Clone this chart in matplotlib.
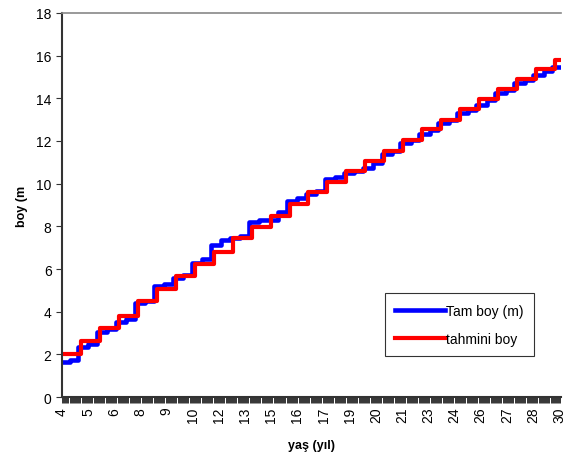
import numpy as np
import matplotlib
matplotlib.use('Agg')
import matplotlib.pyplot as plt

# yearly ages (categories) and the two length series
ages = list(range(4, 31))

# tahmini boy: one value per integer age
tahmini_boy = [2.00, 2.64, 3.23, 3.81, 4.48, 5.06, 5.66, 6.23, 6.81, 7.44,
               7.95, 8.50, 9.05, 9.60, 10.10, 10.60, 11.05, 11.55, 12.05, 12.55,
               13.00, 13.50, 13.95, 14.45, 14.90, 15.35, 15.80]

# Tam boy (m): early and late level inside each year
tam_boy_lo = [1.65, 2.35, 3.05, 3.50, 4.40, 5.20, 5.60, 6.30, 7.15, 7.45,
              8.20, 8.30, 9.20, 9.50, 10.20, 10.50, 10.75, 11.40, 11.90, 12.35,
              12.85, 13.30, 13.70, 14.25, 14.70, 15.10, 15.45]
tam_boy_hi = [1.72, 2.50, 3.20, 3.65, 4.50, 5.30, 5.70, 6.45, 7.35, 7.55,
              8.30, 8.67, 9.35, 9.65, 10.30, 10.60, 10.95, 11.55, 12.05, 12.50,
              13.00, 13.45, 13.90, 14.40, 14.85, 15.30, 15.60]

tick_labels = ['4', '5', '6', '8', '9', '10', '12', '13', '15', '16',
               '17', '19', '20', '21', '23', '24', '26', '27', '28', '30']

# blue series: jump a little before the year, small rise mid-year
blue_x, blue_y = [], []
for a, lo, hi in zip(ages, tam_boy_lo, tam_boy_hi):
    blue_x += [a - 0.15, a + 0.4]
    blue_y += [lo, hi]
blue_x += [31]
blue_y += [tam_boy_hi[-1]]

red_x = ages + [31]
red_y = tahmini_boy + [tahmini_boy[-1]]

fig = plt.figure(figsize=(5.63, 4.64), dpi=100)
ax = fig.add_axes([0.110, 0.142, 0.886, 0.828])
plt.rcParams['font.family'] = ['Liberation Sans', 'DejaVu Sans']

ax.step(blue_x, blue_y, where='post', color='#0000FF', lw=3.3, label='Tam boy (m)')
ax.step(red_x, red_y, where='post', color='#FF0000', lw=3.0, label='tahmini boy')

ax.set_xlim(4, 30.3)
ax.set_ylim(0, 18)
ax.set_yticks(np.arange(0, 19, 2))

label_step = 1.38
ax.set_xticks([4 + i * label_step for i in range(len(tick_labels))])
ax.set_xticklabels(tick_labels, rotation=90, fontsize=10, family='Liberation Sans')
ax.set_xticks(np.arange(4, 30.3, label_step / 24), minor=True)
ax.tick_params(axis='x', which='both', direction='out', length=4, width=0.7,
               color='#333333', pad=3)
ax.tick_params(axis='y', direction='out', length=4, width=0.8, color='#333333',
               labelsize=10)
for t in ax.get_yticklabels():
    t.set_family('Liberation Sans')

for s in ['left', 'bottom']:
    ax.spines[s].set_color('#333333')
    ax.spines[s].set_linewidth(1.5)
ax.spines['top'].set_color('#888888')
ax.spines['top'].set_linewidth(1.2)
ax.spines['right'].set_visible(False)

ax.set_xlabel('yaş (yıl)', fontsize=9, fontweight='bold', family='Liberation Sans',
              labelpad=12)
ax.set_ylabel('boy (m', fontsize=9, fontweight='bold', family='Liberation Sans',
              labelpad=6)

leg = ax.legend(loc='lower left', bbox_to_anchor=(0.647, 0.107), fontsize=10,
                frameon=True, fancybox=False, handlelength=3.6, handletextpad=0.05,
                borderpad=0.75, labelspacing=1.0, borderaxespad=0)
leg.get_frame().set_edgecolor('black')
leg.get_frame().set_linewidth(0.8)
for t in leg.get_texts():
    t.set_family('Liberation Sans')

fig.savefig('out.png', dpi=100)
